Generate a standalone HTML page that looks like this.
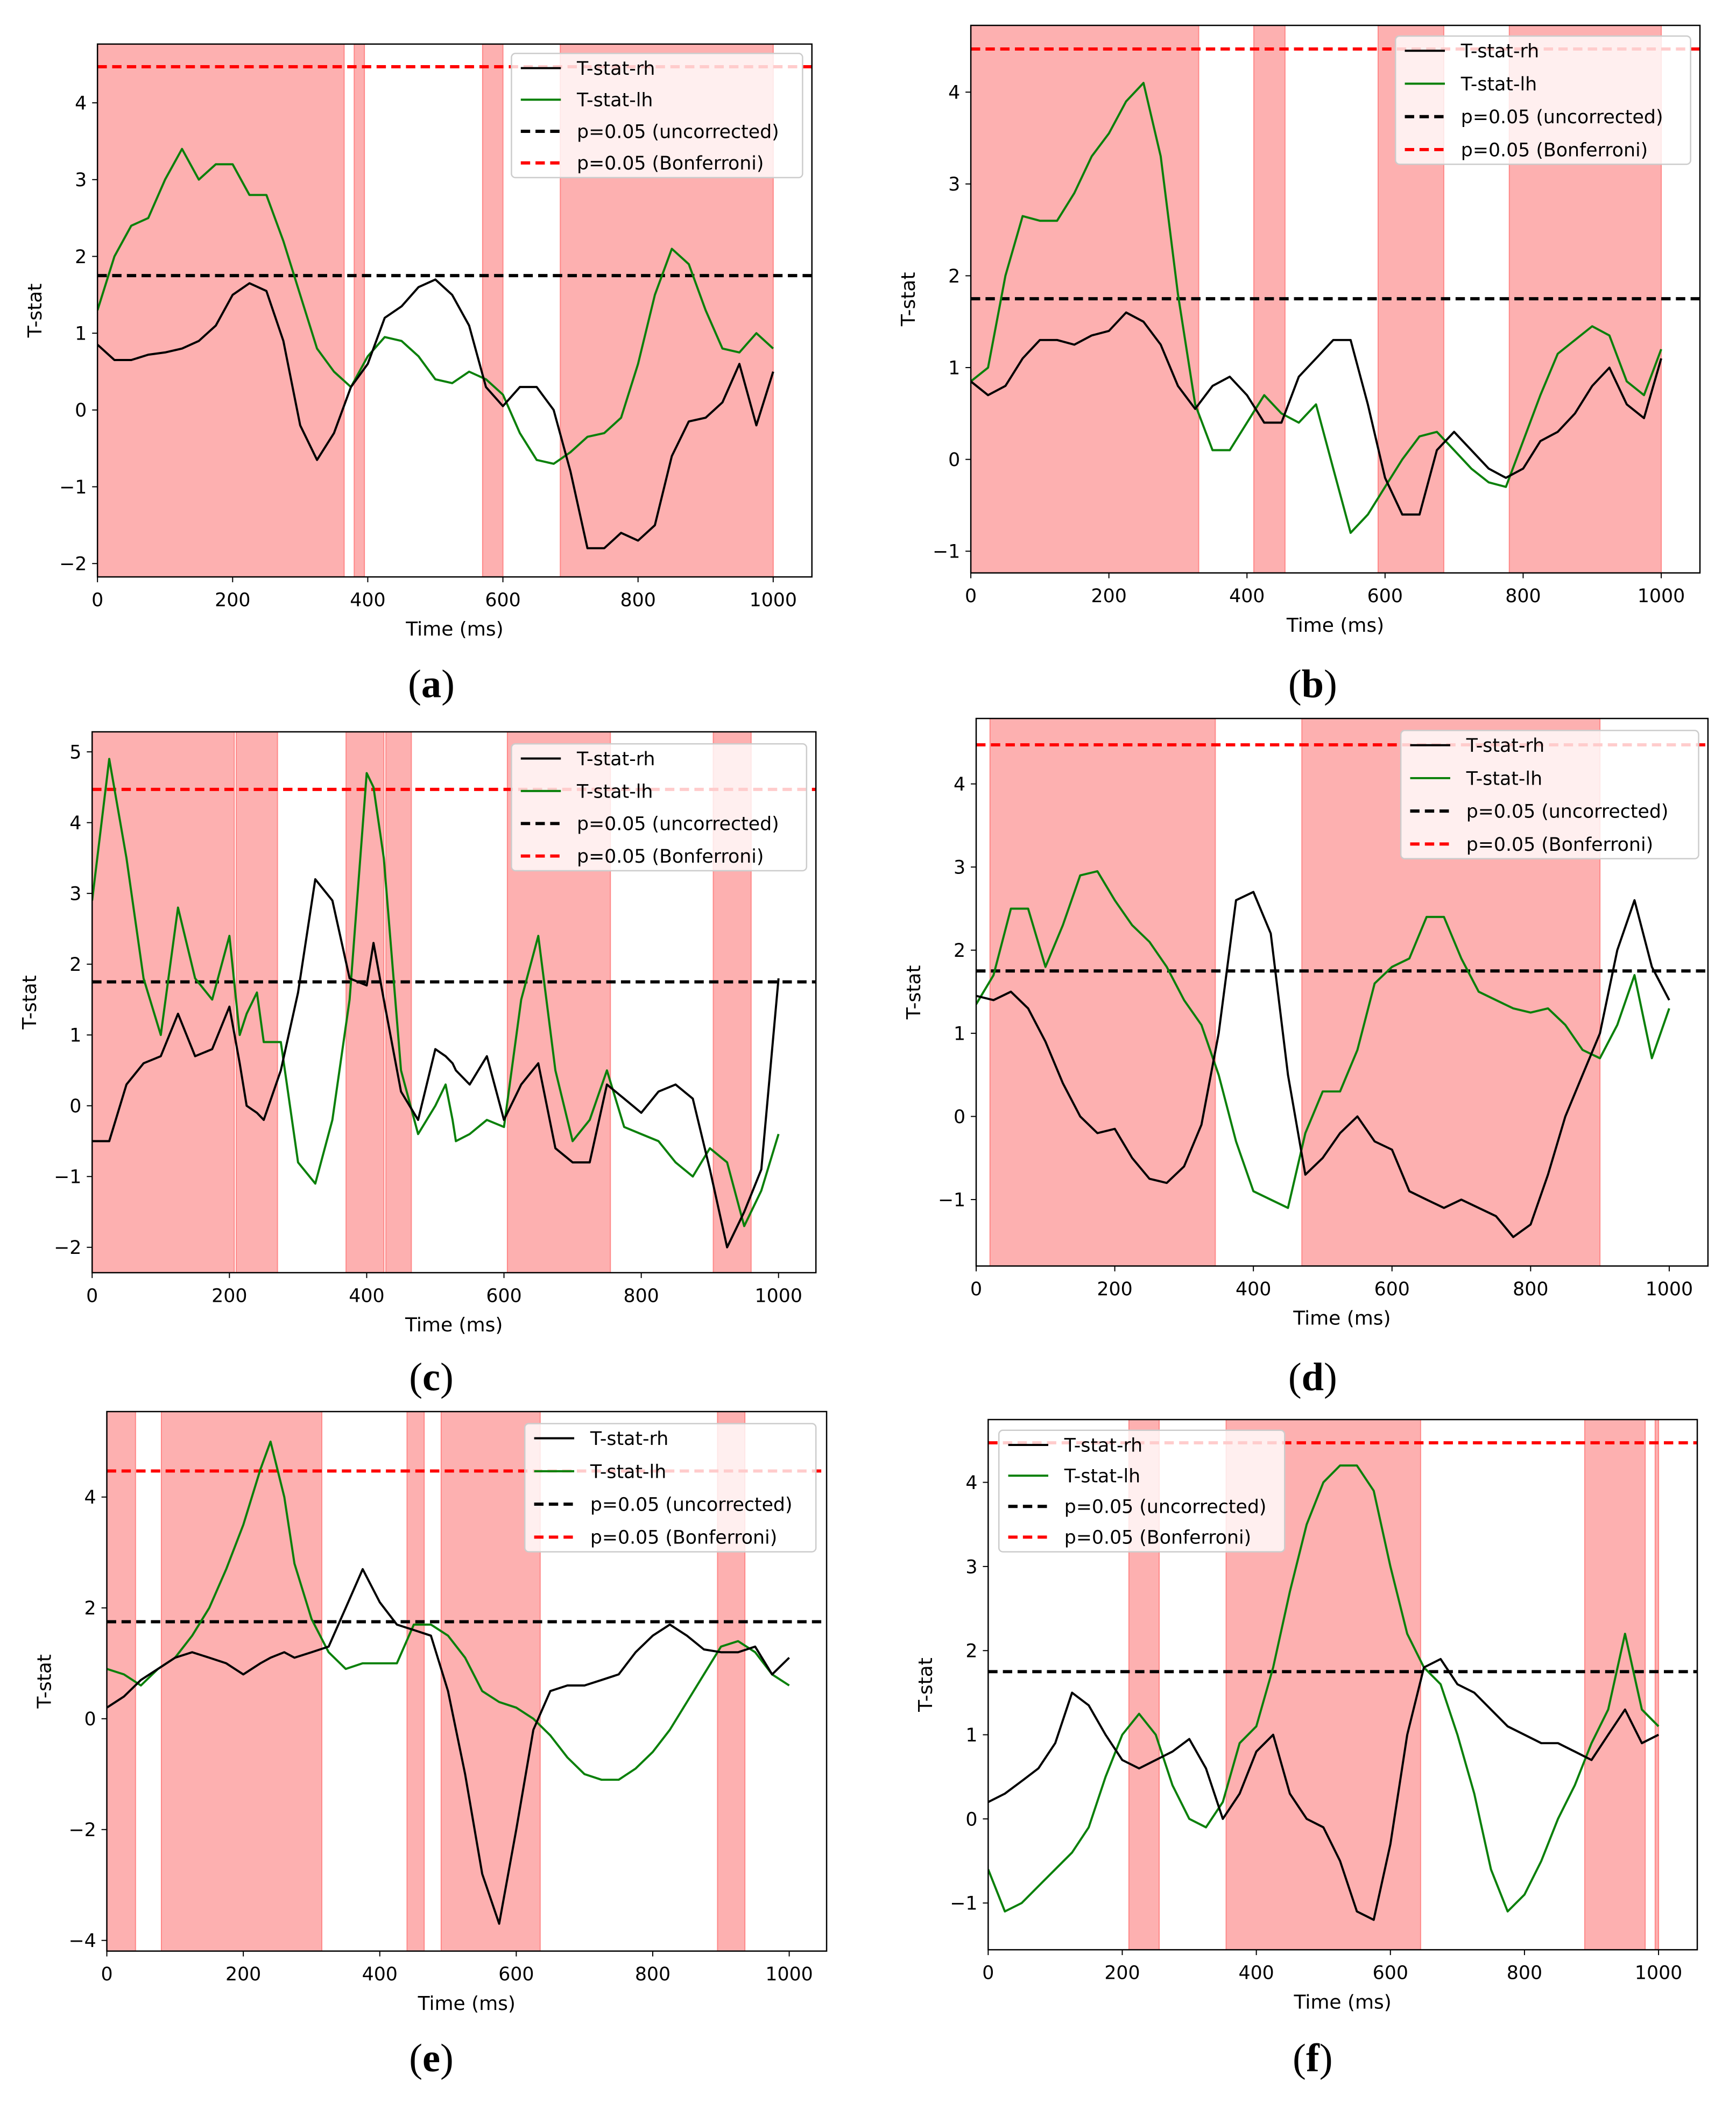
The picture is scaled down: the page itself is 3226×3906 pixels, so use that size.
<!DOCTYPE html>
<html><head><meta charset="utf-8"><style>
html,body{margin:0;padding:0;background:#fff}
svg{display:block}
text{font-family:"DejaVu Sans","Liberation Sans",sans-serif}
text.plabel{font-family:"Liberation Serif","DejaVu Serif",serif}
</style></head><body>
<svg id="fig" width="3226" height="3906" viewBox="0 0 1300 1574" preserveAspectRatio="none" xmlns="http://www.w3.org/2000/svg"></svg>
<script>
const tA=[0,25,50,75,100,125,150,175,200,225,250,275,300,325,350,375,400,425,450,475,500,525,550,575,600,625,650,675,700,725,750,775,800,825,850,875,900,925,950,975,1000];
const rhA=[0.85,0.65,0.65,0.72,0.75,0.8,0.9,1.1,1.5,1.65,1.55,0.9,-0.2,-0.65,-0.3,0.3,0.6,1.2,1.35,1.6,1.7,1.5,1.1,0.3,0.05,0.3,0.3,0.0,-0.8,-1.8,-1.8,-1.6,-1.7,-1.5,-0.6,-0.15,-0.1,0.1,0.6,-0.2,0.5];
const lhA=[1.3,2.0,2.4,2.5,3.0,3.4,3.0,3.2,3.2,2.8,2.8,2.2,1.5,0.8,0.5,0.3,0.7,0.95,0.9,0.7,0.4,0.35,0.5,0.4,0.2,-0.3,-0.65,-0.7,-0.55,-0.35,-0.3,-0.1,0.6,1.5,2.1,1.9,1.3,0.8,0.75,1.0,0.8];
const rhB=[0.85,0.7,0.8,1.1,1.3,1.3,1.25,1.35,1.4,1.6,1.5,1.25,0.8,0.55,0.8,0.9,0.7,0.4,0.4,0.9,1.1,1.3,1.3,0.6,-0.2,-0.6,-0.6,0.1,0.3,0.1,-0.1,-0.2,-0.1,0.2,0.3,0.5,0.8,1.0,0.6,0.45,1.1];
const lhB=[0.85,1.0,2.0,2.65,2.6,2.6,2.9,3.3,3.55,3.9,4.1,3.3,1.8,0.6,0.1,0.1,0.4,0.7,0.5,0.4,0.6,-0.1,-0.8,-0.6,-0.3,0.0,0.25,0.3,0.1,-0.1,-0.25,-0.3,0.2,0.7,1.15,1.3,1.45,1.35,0.85,0.7,1.2];
const tC=[0,25,50,75,100,125,150,175,200,215,225,240,250,275,300,325,350,375,400,410,425,450,475,500,515,525,530,550,575,600,625,650,675,700,725,750,775,800,825,850,875,900,925,950,975,1000];
const rhC=[-0.5,-0.5,0.3,0.6,0.7,1.3,0.7,0.8,1.4,0.6,0.0,-0.1,-0.2,0.5,1.6,3.2,2.9,1.8,1.7,2.3,1.5,0.2,-0.2,0.8,0.7,0.6,0.5,0.3,0.7,-0.2,0.3,0.6,-0.6,-0.8,-0.8,0.3,0.1,-0.1,0.2,0.3,0.1,-0.9,-2.0,-1.5,-0.9,1.8];
const lhC=[2.9,4.9,3.5,1.8,1.0,2.8,1.8,1.5,2.4,1.0,1.3,1.6,0.9,0.9,-0.8,-1.1,-0.2,1.5,4.7,4.5,3.5,0.5,-0.4,0.0,0.3,-0.2,-0.5,-0.4,-0.2,-0.3,1.5,2.4,0.5,-0.5,-0.2,0.5,-0.3,-0.4,-0.5,-0.8,-1.0,-0.6,-0.8,-1.7,-1.2,-0.4];
const rhD=[1.45,1.4,1.5,1.3,0.9,0.4,0.0,-0.2,-0.15,-0.5,-0.75,-0.8,-0.6,-0.1,1.0,2.6,2.7,2.2,0.5,-0.7,-0.5,-0.2,0.0,-0.3,-0.4,-0.9,-1.0,-1.1,-1.0,-1.1,-1.2,-1.45,-1.3,-0.7,0.0,0.5,1.0,2.0,2.6,1.8,1.4];
const lhD=[1.35,1.7,2.5,2.5,1.8,2.3,2.9,2.95,2.6,2.3,2.1,1.8,1.4,1.1,0.5,-0.3,-0.9,-1.0,-1.1,-0.2,0.3,0.3,0.8,1.6,1.8,1.9,2.4,2.4,1.9,1.5,1.4,1.3,1.25,1.3,1.1,0.8,0.7,1.1,1.7,0.7,1.3];
const tE=[0,25,50,75,100,125,150,175,200,225,240,260,275,300,325,350,375,400,425,450,475,500,525,550,575,600,625,650,675,700,725,750,775,800,825,850,875,900,925,950,975,1000];
const rhE=[0.2,0.4,0.7,0.9,1.1,1.2,1.1,1.0,0.8,1.0,1.1,1.2,1.1,1.2,1.3,2.0,2.7,2.1,1.7,1.6,1.5,0.5,-1.0,-2.8,-3.7,-2.0,-0.2,0.5,0.6,0.6,0.7,0.8,1.2,1.5,1.7,1.5,1.25,1.2,1.2,1.3,0.8,1.1];
const lhE=[0.9,0.8,0.6,0.9,1.1,1.5,2.0,2.7,3.5,4.5,5.0,4.0,2.8,1.8,1.2,0.9,1.0,1.0,1.0,1.7,1.7,1.5,1.1,0.5,0.3,0.2,0.0,-0.3,-0.7,-1.0,-1.1,-1.1,-0.9,-0.6,-0.2,0.3,0.8,1.3,1.4,1.2,0.8,0.6];
const rhF=[0.2,0.3,0.45,0.6,0.9,1.5,1.35,1.0,0.7,0.6,0.7,0.8,0.95,0.6,0.0,0.3,0.8,1.0,0.3,0.0,-0.1,-0.5,-1.1,-1.2,-0.3,1.0,1.8,1.9,1.6,1.5,1.3,1.1,1.0,0.9,0.9,0.8,0.7,1.0,1.3,0.9,1.0];
const lhF=[-0.6,-1.1,-1.0,-0.8,-0.6,-0.4,-0.1,0.5,1.0,1.25,1.0,0.4,0.0,-0.1,0.2,0.9,1.1,1.8,2.7,3.5,4.0,4.2,4.2,3.9,3.0,2.2,1.8,1.6,1.0,0.3,-0.6,-1.1,-0.9,-0.5,0.0,0.4,0.9,1.3,2.2,1.3,1.1];
const shadeA=[[0,365],[380,395],[570,600],[685,1000]];
const shadeB=[[0,330],[410,455],[590,685],[780,1000]];
const shadeC=[[0,207],[210,270],[370,425],[428,465],[605,755],[905,960]];
const shadeD=[[20,345],[470,900]];
const shadeE=[[0,42],[80,315],[440,465],[490,635],[895,935]];
const shadeF=[[210,255],[355,645],[890,980],[995,1000]];
const xTicks=[0,200,400,600,800,1000];
const yTicksA=[-2,-1,0,1,2,3,4], yTicksB=[-1,0,1,2,3,4], yTicksC=[-2,-1,0,1,2,3,4,5], yTicksD=[-1,0,1,2,3,4], yTicksE=[-4,-2,0,2,4], yTicksF=[-1,0,1,2,3,4];
const uncorr=1.75, bonf=4.47;
const legendLabels=["T-stat-rh","T-stat-lh","p=0.05 (uncorrected)","p=0.05 (Bonferroni)"];

const panels=[
 {id:'a',L:73,R:608,T:33,B:432,x0:73,x1000:579,yRef:[4,77,0,307],t:tA,rh:rhA,lh:lhA,sh:shadeA,yt:yTicksA,lg:[383,40,218,93],lab:[323,512]},
 {id:'b',L:727,R:1273,T:19,B:429,x0:727,x1000:1244,yRef:[4,69,0,344],t:tA,rh:rhB,lh:lhB,sh:shadeB,yt:yTicksB,lg:[1045,27,221,96],lab:[983,512]},
 {id:'c',L:69,R:611,T:548,B:953,x0:69,x1000:583,yRef:[5,563,0,828],t:tC,rh:rhC,lh:lhC,sh:shadeC,yt:yTicksC,lg:[383,557,221,95],lab:[323,1031]},
 {id:'d',L:731,R:1279,T:538,B:948,x0:731,x1000:1250,yRef:[4,587,0,836],t:tA,rh:rhD,lh:lhD,sh:shadeD,yt:yTicksD,lg:[1049,547,223,96],lab:[983,1031]},
 {id:'e',L:80,R:619,T:1057,B:1461,x0:80,x1000:591,yRef:[4,1121,0,1287],t:tE,rh:rhE,lh:lhE,sh:shadeE,yt:yTicksE,lg:[393,1066,218,96],lab:[323,1541]},
 {id:'f',L:740,R:1271,T:1063,B:1460,x0:740,x1000:1242,yRef:[4,1110,0,1362],t:tA,rh:rhF,lh:lhF,sh:shadeF,yt:yTicksF,lg:[748,1071,214,91],lab:[983,1541]}
];
const NS='http://www.w3.org/2000/svg';
const svg=document.getElementById('fig');
function mk(tag,parent,attrs){const e=document.createElementNS(NS,tag);for(const k in attrs)e.setAttribute(k,attrs[k]);parent.appendChild(e);return e;}
panels.forEach(p=>{
 const g=mk('g',svg,{});
 
 
 const xs=v=>p.x0+(p.x1000-p.x0)*v/1000;
 const k=(p.yRef[1]-p.yRef[3])/(p.yRef[0]-p.yRef[2]);
 const ys=v=>p.yRef[3]+k*v;
 const cid='clip'+p.id;
 const cp=mk('clipPath',g,{id:cid});mk('rect',cp,{x:p.L,y:p.T,width:p.R-p.L,height:p.B-p.T});
 const plot=mk('g',g,{'clip-path':'url(#'+cid+')'});
 p.sh.forEach((s,i)=>{const r=mk('rect',plot,{x:xs(s[0]),y:p.T,width:xs(s[1])-xs(s[0]),height:p.B-p.T,fill:'#fdb0b0',stroke:'#f88',"stroke-width":0.8});
  
  });
 [[bonf,'#f00','bonferroni-line'],[uncorr,'#000','uncorrected-line']].forEach(h=>{const l=mk('line',plot,{x1:p.L,x2:p.R,y1:ys(h[0]),y2:ys(h[0]),stroke:h[1],'stroke-width':2.4,'stroke-dasharray':'7,4'});
  
  });
 [[p.lh,'#0a800a','series-lh'],[p.rh,'#000','series-rh']].forEach(s=>{const d=s[0].map((v,i)=>(i?'L':'M')+xs(p.t[i]).toFixed(1)+' '+ys(v).toFixed(1)).join(' ');
  const pa=mk('path',plot,{d:d,fill:'none',stroke:s[1],'stroke-width':1.6,'stroke-linejoin':'round'});
  
  });
 const fr=mk('rect',g,{x:p.L,y:p.T,width:p.R-p.L,height:p.B-p.T,fill:'none',stroke:'#000','stroke-width':1});
 
 
 xTicks.forEach(v=>{const x=xs(v);mk('line',g,{x1:x,x2:x,y1:p.B,y2:p.B+4,stroke:'#000','stroke-width':0.8});
  const t=mk('text',g,{x:x,y:p.B+22,'font-size':14,'text-anchor':'middle'});t.textContent=v;
  
  });
 p.yt.forEach(v=>{const y=ys(v);mk('line',g,{x1:p.L-4,x2:p.L,y1:y,y2:y,stroke:'#000','stroke-width':0.8});
  const t=mk('text',g,{x:p.L-8,y:y+5,'font-size':14,'text-anchor':'end'});t.textContent=v<0?'\u2212'+(-v):v;
  
  });
 const xl=mk('text',g,{x:(p.L+p.R)/2,y:p.B+44,'font-size':14.5,'text-anchor':'middle'});xl.textContent='Time (ms)';
 
 
 const yl=mk('text',g,{x:0,y:0,'font-size':14.5,'text-anchor':'middle',transform:'translate('+(p.L-42)+','+((p.T+p.B)/2)+') rotate(-90)'});yl.textContent='T-stat';
 
 
 const lg=mk('g',g,{});
 
 
 const [lx,ly,lw,lh]=p.lg;
 mk('rect',lg,{x:lx,y:ly,width:lw,height:lh,rx:3,fill:'rgba(255,255,255,0.8)',stroke:'#ccc','stroke-width':1});
 const st=[['#000',null],['#0a800a',null],['#000','7,4'],['#f00','7,4']];
 legendLabels.forEach((s,i)=>{const yy=ly+11+i*(lh-22)/3;
  const a={x1:lx+7,x2:lx+37,y1:yy,y2:yy,stroke:st[i][0],'stroke-width':i<2?1.6:2.4};if(st[i][1])a['stroke-dasharray']=st[i][1];mk('line',lg,a);
  const t=mk('text',lg,{x:lx+49,y:yy+5,'font-size':14});t.textContent=s;
  
  });
 const pl=mk('text',g,{x:p.lab[0],y:p.lab[1]+10,'font-size':30,'text-anchor':'middle','class':'plabel',style:'font-family:"Liberation Serif","DejaVu Serif",serif'});
 pl.innerHTML='(<tspan font-weight="bold">'+p.id+'</tspan>)';
 
 
});
</script>
</body></html>
